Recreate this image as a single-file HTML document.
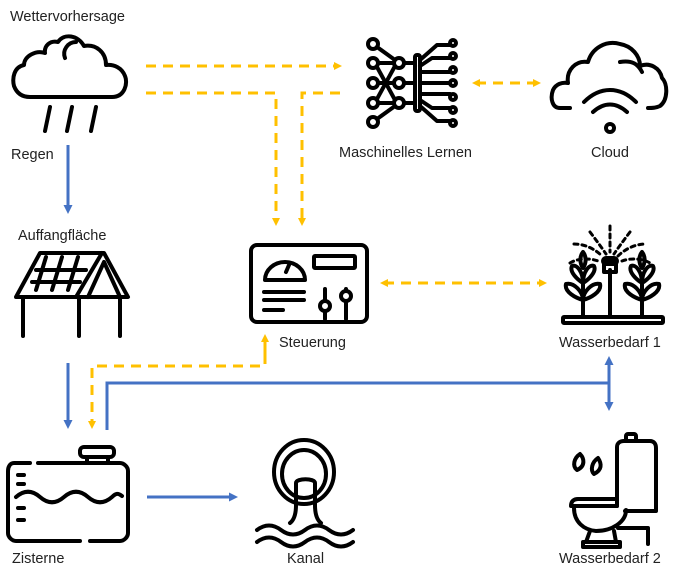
<!DOCTYPE html>
<html><head><meta charset="utf-8"><style>
html,body{margin:0;padding:0;background:#fff;}
svg{display:block;}
text{font-family:"Liberation Sans",sans-serif;font-size:14.5px;fill:#222;}
</style></head><body>
<svg width="693" height="576" viewBox="0 0 693 576" xmlns="http://www.w3.org/2000/svg">
<defs>
<marker id="ya" markerWidth="8" markerHeight="8" refX="4" refY="4" orient="auto-start-reverse" markerUnits="userSpaceOnUse"><path d="M0,0 L8,4 L0,8 z" fill="#FFC000"/></marker>
<marker id="ba" markerWidth="9" markerHeight="9" refX="5" refY="4.5" orient="auto" markerUnits="userSpaceOnUse"><path d="M0,0 L9,4.5 L0,9 z" fill="#4472C4"/></marker>
</defs>

<text x="10" y="21">Wettervorhersage</text>
<text x="11" y="159">Regen</text>
<text x="339" y="157">Maschinelles Lernen</text>
<text x="591" y="157">Cloud</text>
<text x="18" y="240">Auffangfläche</text>
<text x="279" y="347">Steuerung</text>
<text x="559" y="347">Wasserbedarf 1</text>
<text x="12" y="563">Zisterne</text>
<text x="287" y="563">Kanal</text>
<text x="559" y="563">Wasserbedarf 2</text>

<g fill="none" stroke="#FFC000" stroke-width="3" stroke-dasharray="10,7">
<path d="M146,66 H338" marker-end="url(#ya)"/>
<path d="M146,93 H276 V222" marker-end="url(#ya)"/>
<path d="M340,93 H302 V222" marker-end="url(#ya)"/>
<path d="M476,83 H537" marker-start="url(#ya)" marker-end="url(#ya)"/>
<path d="M384,283 H543" marker-start="url(#ya)" marker-end="url(#ya)"/>
<path d="M265,354 V366 H92 V425" marker-end="url(#ya)"/>
</g>
<path d="M265,360 V338" stroke="#FFC000" stroke-width="3" marker-end="url(#ya)"/>

<g fill="none" stroke="#4472C4" stroke-width="3">
<path d="M68,145 V210" marker-end="url(#ba)"/>
<path d="M68,363 V425" marker-end="url(#ba)"/>
<path d="M107,430 V383 H609"/>
<path d="M609,383 V360" marker-end="url(#ba)"/>
<path d="M609,383 V407" marker-end="url(#ba)"/>
<path d="M147,497 H234" marker-end="url(#ba)"/>
</g>

<g fill="none" stroke="#000" stroke-width="4" stroke-linecap="round" stroke-linejoin="round">
<path d="M30,97 H112 C125,97 128,83 125,76 C122,68 114,64 106,65 C106,52 96,44 84,46 C78,35 64,33 58,42 C50,40 44,46 45,53 C36,50 24,56 24,65 C14,67 12,78 14,86 C17,94 23,97 30,97 Z"/>
<path d="M65,58 C62,50 68,42 76,42"/>
<path d="M50,107 L45,131 M72,107 L67,131 M96,107 L91,131"/>

<circle cx="373" cy="44" r="5"/><circle cx="373" cy="63" r="5"/><circle cx="373" cy="83" r="5"/><circle cx="373" cy="103" r="5"/><circle cx="373" cy="122" r="5"/>
<circle cx="399" cy="63" r="5"/><circle cx="399" cy="83" r="5"/><circle cx="399" cy="103" r="5"/>
<path d="M378,63 H394 M378,83 H394 M378,103 H394 M377,67 L395,100 M377,99 L395,66 M377,47 L395,60 M377,119 L395,106 M404,63 H415 M404,83 H415 M404,103 H415"/>
<rect x="415" y="55" width="5" height="56" rx="2"/>
<circle cx="453" cy="43" r="3"/><circle cx="453" cy="56" r="3"/><circle cx="453" cy="70" r="3"/><circle cx="453" cy="83" r="3"/><circle cx="453" cy="97" r="3"/><circle cx="453" cy="110" r="3"/><circle cx="453" cy="123" r="3"/>
<path d="M420,60 L437,45 H450 M420,66 L432,58 H450 M420,72 H450 M420,83 H450 M420,94 H450 M420,100 L432,108 H450 M420,106 L437,121 H450"/>

<path d="M570,108 H560 C552,108 550,98 553,90 C556,84 562,82 568,83 C566,70 576,60 588,62 C592,48 606,40 620,44 C632,46 640,56 640,66 C650,62 660,68 662,78 C668,84 668,100 660,106 C656,108 652,108 648,108"/>
<path d="M620,62 C632,60 638,64 642,72"/>
<path d="M584,102 C600,86 620,86 636,102"/>
<path d="M593,112 C604,102 616,102 627,112"/>
<circle cx="610" cy="128" r="4"/>

<path d="M16,297 L40,253 H104 L128,297 Z M88,297 L104,262 L120,297 M76,297 L102,253"/>
<path d="M36,270 H86 M32,282 H80 M46,257 L36,290 M62,257 L52,290 M78,257 L68,290"/>
<path d="M23,297 V336 M79,297 V336 M120,297 V336"/>

<rect x="251" y="245" width="116" height="77" rx="6"/>
<path d="M265,280 A20,18 0 0 1 305,280 Z"/>
<path d="M286,272 L289,265"/>
<rect x="314" y="256" width="41" height="12" rx="1"/>
<path d="M264,292 H304 M264,300 H304 M264,310 H283"/>
<path d="M325,289 V319 M346,289 V319"/>
<circle cx="325" cy="306" r="5" fill="#fff"/><circle cx="346" cy="296" r="5" fill="#fff"/>

<rect x="563" y="317" width="100" height="6" rx="1"/>
<path d="M610,270 V317 M604,262 H616 V272 H604 Z"/>
<rect x="603" y="258" width="14" height="6" rx="3"/>
<path d="M583,317 V275 M642,317 V275"/>
<path d="M583,283 C578,280 569,272 572,266 C577,264 583,272 583,283 Z M583,283 C588,280 597,272 594,266 C589,264 583,272 583,283 Z M583,300 C576,298 564,292 566,284 C574,282 583,292 583,300 Z M583,300 C590,298 602,292 600,284 C592,282 583,292 583,300 Z M583,268 C579,262 580,256 583,252 C586,256 587,262 583,268 Z"/>
<path d="M642,283 C637,280 628,272 631,266 C636,264 642,272 642,283 Z M642,283 C647,280 656,272 653,266 C648,264 642,272 642,283 Z M642,300 C635,298 623,292 625,284 C633,282 642,292 642,300 Z M642,300 C649,298 661,292 659,284 C651,282 642,292 642,300 Z M642,268 C638,262 639,256 642,252 C645,256 646,262 642,268 Z"/>
<g stroke-width="3" stroke-dasharray="4,4">
<path d="M570,263 C578,258 590,258 598,261"/>
<path d="M622,261 C630,258 642,258 650,263"/>
<path d="M574,244 C586,244 596,250 602,256"/>
<path d="M618,256 C624,250 634,244 646,244"/>
<path d="M590,232 C596,240 602,248 606,254"/>
<path d="M630,232 C624,240 618,248 614,254"/>
<path d="M610,226 V252"/>
</g>

<path d="M30,463 H14 C10,463 8,467 8,471 V533 C8,537 12,541 16,541 H80 M90,541 H120 C124,541 128,537 128,533 V471 C128,467 124,463 120,463 H38"/>
<rect x="80" y="447" width="34" height="10" rx="4"/>
<path d="M87,457 V463 M108,457 V463"/>
<path d="M16,497 C24,490 32,490 40,497 C48,504 56,504 64,497 C72,490 80,490 88,497 C96,504 104,504 112,497 C116,493 118,493 122,496"/>
<path d="M18,475 H24 M18,484 H24 M18,508 H24 M18,520 H24"/>

<ellipse cx="304" cy="472" rx="30" ry="32"/>
<ellipse cx="304" cy="474" rx="22" ry="24"/>
<path d="M296,505 C296,514 294,520 290,523 M315,505 C315,514 317,520 321,523 M296,505 V483 C296,478 315,478 315,483 V505"/>
<path d="M257,530 C265,524 273,524 281,530 C289,536 297,536 305,530 C313,524 321,524 329,530 C337,536 345,536 353,530"/>
<path d="M257,542 C265,536 273,536 281,542 C289,548 297,548 305,542 C313,536 321,536 329,542 C337,548 345,548 353,542"/>

<path d="M617,506 V447 C617,443 620,441 624,441 H650 C654,441 656,444 656,448 V511 H625"/>
<rect x="626" y="434" width="10" height="7" rx="2"/>
<path d="M571,506 C571,501 574,499 578,499 H617 M571,506 H617"/>
<path d="M574,508 C574,522 584,530 596,531 C612,531 626,522 626,510"/>
<path d="M590,531 L586,542 H616 L614,531 M583,542 H620 V547 H583 Z"/>
<path d="M618,528 H648 V544"/>
<path d="M577,470 C572,466 574,458 580,454 C584,458 586,466 577,470 Z M594,474 C590,470 592,462 598,458 C602,464 602,470 594,474 Z"/>
</g>
</svg>
</body></html>
